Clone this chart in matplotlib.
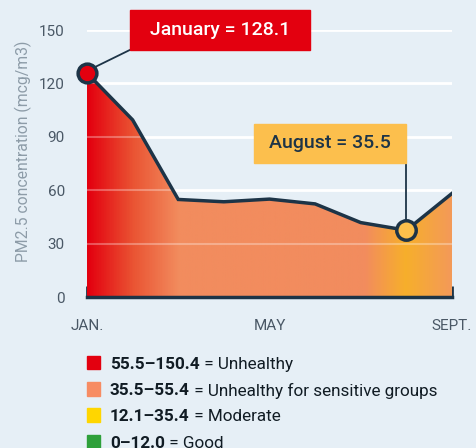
import matplotlib.pyplot as plt
import numpy as np
from matplotlib.colors import LinearSegmentedColormap
from matplotlib.patches import Rectangle, Polygon

months = ["JAN.", "FEB.", "MAR.", "APR.", "MAY", "JUNE", "JULY", "AUG.", "SEPT."]
pm25 = [125.8, 99.5, 54.8, 53.5, 55.0, 52.3, 41.8, 37.5, 58.2]
shown_months = [0, 4, 8]

legend_ranges = ["55.5\u2013150.4", "35.5\u201355.4", "12.1\u201335.4", "0\u201312.0"]
legend_names = ["Unhealthy", "Unhealthy for sensitive groups", "Moderate", "Good"]
legend_colors = ["#e3000f", "#f78c63", "#ffd600", "#2ea03a"]

bg = "#e6eff6"
navy = "#1d3447"
plt.rcParams["font.family"] = ["Roboto", "DejaVu Sans"]

fig = plt.figure(figsize=(4.77, 4.48), dpi=100)
fig.patch.set_facecolor(bg)
ax = fig.add_axes([87 / 477, 1 - 297 / 448, 365 / 477, 267 / 448])
ax.set_facecolor(bg)
x = np.arange(len(pm25))
ax.set_xlim(0, 8)
ax.set_ylim(0, 150)

# white gridlines under the fill
for v in [30, 60, 90, 120, 150]:
    ax.axhline(v, color="white", lw=2, zorder=1)

# gradient fill under the line
cmap = LinearSegmentedColormap.from_list("pm", [
    (0.0, "#e3000f"), (1 / 8, "#ea5433"), (2 / 8, "#f28c5e"),
    (6.1 / 8, "#f28c5e"), (7 / 8, "#f7af2b"), (1.0, "#f39a58")])
grad = np.linspace(0, 1, 400).reshape(1, -1)
im = ax.imshow(grad, cmap=cmap, extent=[0, 8, 0, 150], aspect="auto", zorder=2)
poly = Polygon(np.column_stack([np.r_[x, x[-1], 0], np.r_[pm25, 0, 0]]),
               closed=True, transform=ax.transData)
im.set_clip_path(poly)

# faint gridlines over the fill
for v in [30, 60, 90, 120, 150]:
    ax.axhline(v, color="white", lw=1.5, alpha=0.3, zorder=3)

ax.plot(x, pm25, color=navy, lw=2.5, zorder=4, solid_joinstyle="miter")

# highlighted points
ax.plot(x[0], pm25[0], "o", ms=13.5, mfc="#e3000f", mec=navy, mew=2.5, zorder=6, clip_on=False)
ax.plot(x[7], pm25[7], "o", ms=14, mfc="#fcc04b", mec=navy, mew=2.5, zorder=6, clip_on=False)

# callouts
ax.plot([0.94, 0.2], [138.8, 129.5], color=navy, lw=1.3, zorder=5, clip_on=False)
ax.add_patch(Rectangle((0.94, 138.8), 3.95, 22.5, color="#e3000f", zorder=7, clip_on=False))
ax.text(2.915, 150.2, "January = 128.1", color="white", fontsize=14, fontweight="medium",
        ha="center", va="center", zorder=8, clip_on=False)

ax.plot([7, 7], [75.3, 43], color=navy, lw=1.3, zorder=5)
ax.add_patch(Rectangle((3.66, 75.3), 3.34, 22, color="#fcbf4d", zorder=7))
ax.text(5.33, 86.3, "August = 35.5", color=navy, fontsize=14, fontweight="medium",
        ha="center", va="center", zorder=8)

# axes styling
for s in ["top", "right", "left"]:
    ax.spines[s].set_visible(False)
ax.spines["bottom"].set_color(navy)
ax.spines["bottom"].set_linewidth(2.5)
ax.spines["bottom"].set_zorder(9)
ax.set_xticks(shown_months)
ax.set_xticklabels([months[i] for i in shown_months])
ax.set_xticks([i for i in x if i not in shown_months], minor=True)
ax.tick_params(axis="x", which="major", direction="in", length=8, width=2, color=navy,
               labelsize=11, labelcolor="#4a5866", pad=16)
ax.tick_params(axis="x", which="minor", direction="in", length=5, width=2, color=navy)
ax.set_yticks([0, 30, 60, 90, 120, 150])
ax.tick_params(axis="y", length=0, labelsize=11, labelcolor="#4a5866", pad=16)
ax.set_ylabel("PM2.5 concentration (mcg/m3)", color="#8d9ca8", fontsize=11.3)
ax.yaxis.set_label_coords(-0.151, 0.547)

# legend rows
renderer = fig.canvas.get_renderer()
for i, (r, n, c) in enumerate(zip(legend_ranges, legend_names, legend_colors)):
    yc = 1 - (362.7 + i * 26.3) / 448
    fig.patches.append(Rectangle((87 / 477, yc - 6.5 / 448), 13.5 / 477, 13.5 / 448,
                                 color=c, transform=fig.transFigure, figure=fig))
    t = fig.text(110 / 477, yc, r, fontsize=12.3, fontweight="bold", color="#111c24",
                 va="center_baseline", ha="left")
    w = t.get_window_extent(renderer).width
    fig.text((110 + w) / 477, yc, " = " + n, fontsize=12.3, color="#111c24",
             va="center_baseline", ha="left")

fig.savefig("out.png", dpi=100, facecolor=bg)
